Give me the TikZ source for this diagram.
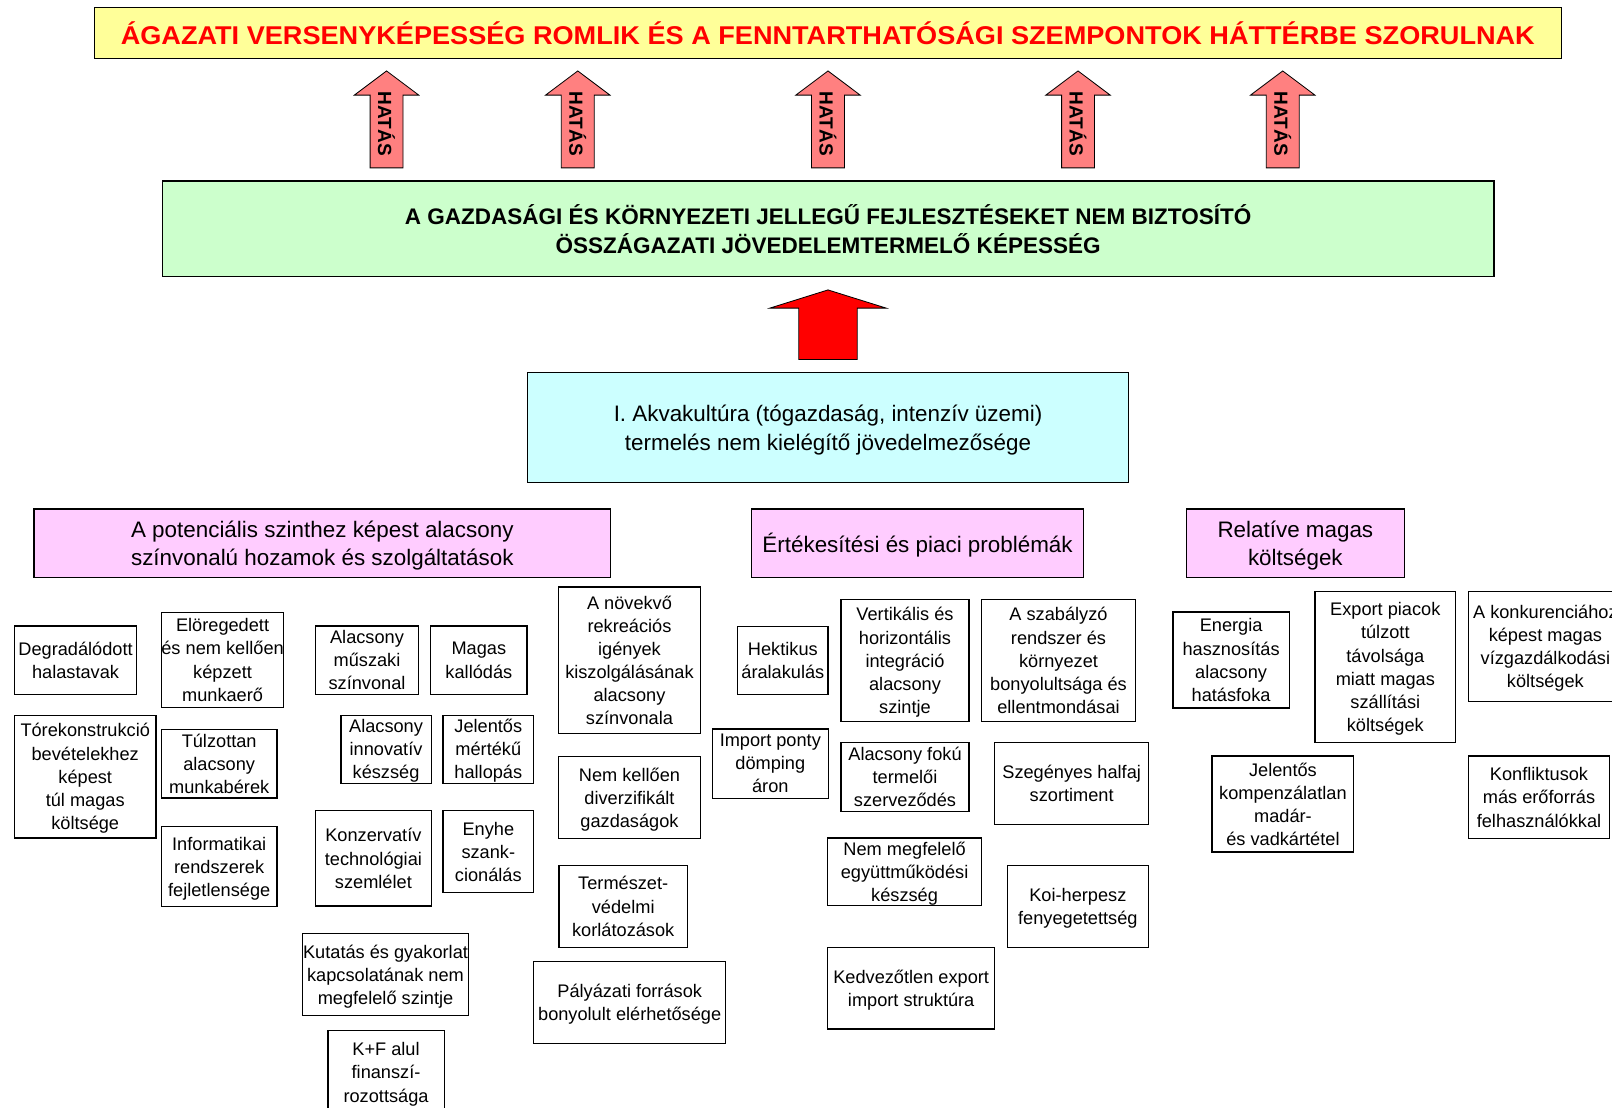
\documentclass[tikz,border=0pt]{standalone}
\usepackage{fontspec}
\setmainfont{Liberation Sans}
\newfontfamily\titlefont[FakeStretch=1.055]{Liberation Sans}

\definecolor{titleyellow}{HTML}{FFFF99}
\definecolor{ossgreen}{HTML}{CCFFCC}
\definecolor{akvacyan}{HTML}{CCFFFF}
\definecolor{grouppink}{HTML}{FFCCFF}
\definecolor{hatasred}{HTML}{FF8080}

\newcommand{\wide}[1]{\makebox[0pt]{#1}}

\begin{document}
\begin{tikzpicture}
[
x=1pt, y=-1pt,
every node/.style={inner sep=0pt, align=center},
cell/.style={draw, line width=1.2pt, inner ysep=-12pt, text depth=-5pt,
  font=\fontsize{17.7}{22.5}\selectfont},
cellsize/.style 2 args={minimum width=#1, minimum height=#2},
group/.style={draw, line width=1.2pt, inner ysep=-12pt, text depth=-9pt,
  font=\fontsize{21.8}{28}\selectfont},
hatasarrow/.style={draw, line width=0.8pt, fill=hatasred},
hatastext/.style={font=\bfseries\fontsize{18.5}{18.5}\selectfont, rotate=-90}
]

\fill[white] (0,0) rectangle (1568,1077);
\useasboundingbox (0,0) rectangle (1568,1077);
\clip (0,0) rectangle (1568,1077);

\node[draw, line width=1.2pt, fill=titleyellow, text=red, minimum width=1427.2, minimum height=49.6,
  font=\titlefont\bfseries\fontsize{25}{25}\selectfont] (title) at (805.2,31.9)
  {ÁGAZATI VERSENYKÉPESSÉG ROMLIK ÉS A FENNTARTHATÓSÁGI SZEMPONTOK HÁTTÉRBE SZORULNAK};

\foreach \x [count=\n] in {376,562,805.4,1048.6,1247.7} {
  \draw[hatasarrow] (\x-16,163.3) -- (\x-16,92.5) -- (\x-31.3,92.5) -- (\x,69)
    -- (\x+31.3,92.5) -- (\x+16,92.5) -- (\x+16,163.3) -- cycle;
  \node[hatastext] (hatas\n) at (\x,120.6) {HATÁS};
}

\node[draw, line width=1.2pt, fill=ossgreen, minimum width=1295.6, minimum height=93,
  font=\bfseries\fontsize{21.9}{28}\selectfont] (ossz) at (805.5,222.5)
  {A GAZDASÁGI ÉS KÖRNYEZETI JELLEGŰ FEJLESZTÉSEKET NEM BIZTOSÍTÓ\\ÖSSZÁGAZATI JÖVEDELEMTERMELŐ KÉPESSÉG};

\draw[line width=0.8pt, fill=red] (777,349.6) -- (777,299.7) -- (748.8,299.7) -- (805.4,282)
  -- (862,299.7) -- (833.8,299.7) -- (833.8,349.6) -- cycle;

\node[group, fill=akvacyan, text depth=-3.4pt, minimum width=585.3, minimum height=106.5] (akva) at (805.4,415.8)
  {I. Akvakultúra (tógazdaság, intenzív üzemi)\\termelés nem kielégítő jövedelmezősége};

\node[group, fill=grouppink, cellsize={561}{67}] (hozam) at (313.5,528.5)
  {A potenciális szinthez képest alacsony\\színvonalú hozamok és szolgáltatások};
\node[group, fill=grouppink, text depth=0.6pt, cellsize={323}{67}] (piac) at (892.5,528.5)
  {Értékesítési és piaci problémák};
\node[group, fill=grouppink, cellsize={212}{67}] (kolts) at (1260,528.5) {Relatíve magas\\költségek};

\node[cell, cellsize={119}{66.4}] (degr) at (73.5,642.2) {Degradálódott\\halastavak};
\node[cell, cellsize={137.7}{119.4}] (torek) at (82.9,755.3)
  {Tórekonstrukció\\bevételekhez\\képest\\túl magas\\költsége};
\node[cell, cellsize={119}{92.3}] (eloreg) at (216.5,641.9)
  {Elöregedett\\\wide{és nem kellően}\\képzett\\munkaerő};
\node[cell, cellsize={112.4}{66.8}] (tulz) at (213.2,742.9) {Túlzottan\\alacsony\\munkabérek};
\node[cell, cellsize={112.4}{78.2}] (infor) at (213.2,843) {Informatikai\\rendszerek\\fejletlensége};
\node[cell, cellsize={100}{66.4}] (muszaki) at (357,642.2) {Alacsony\\műszaki\\színvonal};
\node[cell, cellsize={93.5}{66.4}] (kallod) at (465.8,642.2) {Magas\\kallódás};
\node[cell, cellsize={87.8}{66.1}] (innov) at (375.5,728.7) {Alacsony\\innovatív\\készség};
\node[cell, cellsize={88}{66.1}] (hallop) at (475,728.7) {Jelentős\\mértékű\\hallopás};
\node[cell, cellsize={112.4}{92.5}] (konzerv) at (363.2,834.9) {Konzervatív\\technológiai\\szemlélet};
\node[cell, cellsize={88}{79.8}] (enyhe) at (475,828.5) {Enyhe\\szank-\\cionálás};
\node[cell, cellsize={162}{80}] (kutatas) at (375,948)
  {\wide{Kutatás és gyakorlat}\\kapcsolatának nem\\megfelelő szintje};
\node[cell, cellsize={113}{82}] (kf) at (375.5,1043) {K+F alul\\finanszí-\\rozottsága};
\node[cell, cellsize={137.4}{142.7}] (rekrea) at (612.3,642.4)
  {A növekvő\\rekreációs\\igények\\kiszolgálásának\\alacsony\\színvonala};
\node[cell, cellsize={137.4}{80.1}] (diverz) at (612.3,775.9) {Nem kellően\\diverzifikált\\gazdaságok};
\node[cell, cellsize={125.1}{79.4}] (termv) at (606.2,881.6) {Természet-\\védelmi\\korlátozások};
\node[cell, cellsize={187}{80}] (palyaz) at (612.5,975) {Pályázati források\\bonyolult elérhetősége};

\node[cell, cellsize={87.9}{66.2}] (hektik) at (761.5,642.4) {Hektikus\\áralakulás};
\node[cell, cellsize={112.5}{67.3}] (import) at (749.3,742.7) {Import ponty\\dömping\\áron};
\node[cell, cellsize={124.5}{118.8}] (vertik) at (880.3,642.4)
  {Vertikális és\\horizontális\\integráció\\alacsony\\szintje};
\node[cell, cellsize={124.5}{66.8}] (alfoku) at (880.3,755.9) {Alacsony fokú\\termelői\\szerveződés};
\node[cell, cellsize={149.8}{65.8}] (egyutt) at (879.9,848.1) {Nem megfelelő\\együttműködési\\készség};
\node[cell, cellsize={162.5}{79.2}] (kedvez) at (886.3,961.4) {Kedvezőtlen export\\import struktúra};
\node[cell, cellsize={150.5}{118.8}] (szabaly) at (1029.6,642.4)
  {A szabályzó\\rendszer és\\környezet\\bonyolultsága és\\ellentmondásai};
\node[cell, cellsize={150}{79.5}] (szegeny) at (1042.4,762.3) {Szegényes halfaj\\szortiment};
\node[cell, cellsize={136.9}{79.4}] (koi) at (1048.4,881.6) {Koi-herpesz\\fenyegetettség};

\node[cell, cellsize={113}{93.4}] (energia) at (1197.5,642) {Energia\\hasznosítás\\alacsony\\hatásfoka};
\node[cell, cellsize={137}{146.4}] (exportp) at (1347.5,648.8)
  {Export piacok\\túlzott\\távolsága\\miatt magas\\szállítási\\költségek};
\node[cell, cellsize={149.7}{106.5}] (konkur) at (1503.2,628.9)
  {\wide{A konkurenciához}\\képest magas\\vízgazdálkodási\\költségek};
\node[cell, cellsize={137.8}{93.4}] (madar) at (1247.9,782.1)
  {Jelentős\\kompenzálatlan\\madár-\\és vadkártétel};
\node[cell, cellsize={137.5}{80.1}] (konfl) at (1497,775.5) {Konfliktusok\\más erőforrás\\felhasználókkal};
\end{tikzpicture}
\end{document}
